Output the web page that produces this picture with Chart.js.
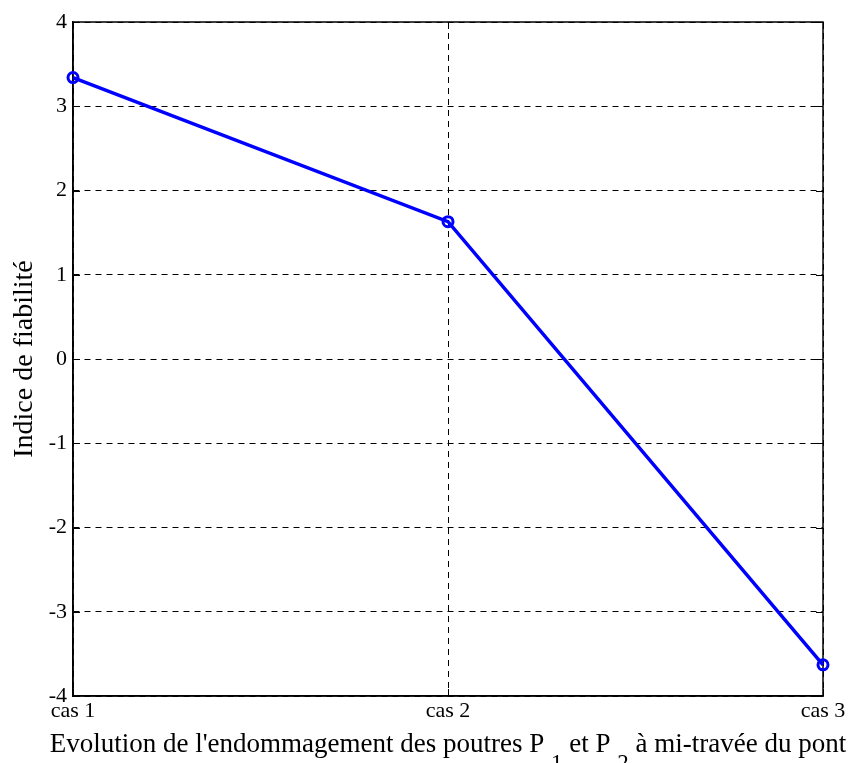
<!DOCTYPE html>
<html>
<head>
<meta charset="utf-8">
<script src="https://cdn.jsdelivr.net/npm/chart.js@4.4.1/dist/chart.umd.min.js"></script>
<style>
  html, body { margin: 0; padding: 0; background: #fff; }
  #wrap { width: 848px; height: 763px; position: relative; }
</style>
</head>
<body>
<div id="wrap"><canvas id="chart"></canvas></div>
<script>
// data
const caseLabels = ['cas 1', 'cas 2', 'cas 3']
const casePositions = [1, 2, 3]
const reliabilityIndex = [3.34, 1.63, -3.63]
const yTicks = [-4, -3, -2, -1, 0, 1, 2, 3, 4]

const yTitle = 'Indice de fiabilité'
// x title pieces, 'sub' parts are drawn lowered like subscripts
const xTitleParts = [
  { text: "Evolution de l'endommagement des poutres P " },
  { text: '1', sub: true },
  { text: ' et P ' },
  { text: '2', sub: true },
  { text: ' à mi-travée du pont' }
]

const serif = "'Liberation Serif', 'Times New Roman', serif"

// box + inward ticks, matlab style
const boxPlugin = {
  id: 'box',
  beforeDatasetsDraw(chart) {
    const { ctx, chartArea: a, scales } = chart
    ctx.save()
    ctx.strokeStyle = '#000'
    ctx.lineWidth = 1.5
    ctx.setLineDash([])
    ctx.strokeRect(a.left, a.top, a.right - a.left, a.bottom - a.top)
    ctx.lineWidth = 1
    const len = 7
    ctx.beginPath()
    yTicks.forEach(v => {
      const y = Math.round(scales.y.getPixelForValue(v)) + 0.5
      ctx.moveTo(a.left, y); ctx.lineTo(a.left + len, y)
      ctx.moveTo(a.right, y); ctx.lineTo(a.right - len, y)
    })
    casePositions.forEach(v => {
      const x = Math.round(scales.x.getPixelForValue(v)) + 0.5
      ctx.moveTo(x, a.bottom); ctx.lineTo(x, a.bottom - len)
      ctx.moveTo(x, a.top); ctx.lineTo(x, a.top + len)
    })
    ctx.stroke()
    ctx.restore()
  },
  afterDraw(chart) {
    const { ctx, chartArea: a } = chart
    ctx.save()
    ctx.fillStyle = '#000'
    ctx.textBaseline = 'alphabetic'
    const mainFont = '27px ' + serif
    const subFont = '23px ' + serif
    let total = 0
    xTitleParts.forEach(p => {
      ctx.font = p.sub ? subFont : mainFont
      p.w = ctx.measureText(p.text).width
      total += p.w
    })
    let x = (a.left + a.right) / 2 - total / 2
    const base = 752
    xTitleParts.forEach(p => {
      ctx.font = p.sub ? subFont : mainFont
      ctx.fillText(p.text, x, p.sub ? base + 18 : base)
      x += p.w
    })
    ctx.restore()
  }
}

new Chart(document.getElementById('chart'), {
  type: 'line',
  data: {
    datasets: [{
      data: casePositions.map((x, i) => ({ x: x, y: reliabilityIndex[i] })),
      borderColor: '#0000ff',
      borderWidth: 3.5,
      pointRadius: 5,
      pointBorderWidth: 3,
      pointBorderColor: '#0000ff',
      pointBackgroundColor: 'rgba(0,0,0,0)',
      tension: 0,
      clip: false
    }]
  },
  options: {
    responsive: true,
    maintainAspectRatio: false,
    animation: false,
    layout: { padding: { left: 0, right: 25, top: 22, bottom: 0 } },
    plugins: { legend: { display: false }, tooltip: { enabled: false } },
    scales: {
      x: {
        type: 'linear',
        min: 1,
        max: 3,
        afterBuildTicks: s => { s.ticks = casePositions.map(v => ({ value: v })) },
        afterFit: s => { s.height = 67 },
        ticks: {
          callback: v => caseLabels[casePositions.indexOf(v)],
          font: { family: serif, size: 22 },
          color: '#000',
          padding: 2,
          maxRotation: 0,
          autoSkip: false
        },
        grid: { color: '#000', lineWidth: 1, drawTicks: false },
        border: { display: true, color: '#000', width: 1.5, dash: [6, 5] }
      },
      y: {
        min: -4,
        max: 4,
        afterBuildTicks: s => { s.ticks = yTicks.map(v => ({ value: v })) },
        afterFit: s => { s.width = 73 },
        ticks: {
          font: { family: serif, size: 22 },
          color: '#000',
          padding: 6
        },
        grid: { color: '#000', lineWidth: 1, drawTicks: false },
        border: { display: true, color: '#000', width: 1.5, dash: [6, 5] },
        title: {
          display: true,
          text: yTitle,
          font: { family: serif, size: 28 },
          color: '#000',
          padding: { top: 8, bottom: 0 }
        }
      }
    }
  },
  plugins: [boxPlugin]
})
</script>
</body>
</html>
